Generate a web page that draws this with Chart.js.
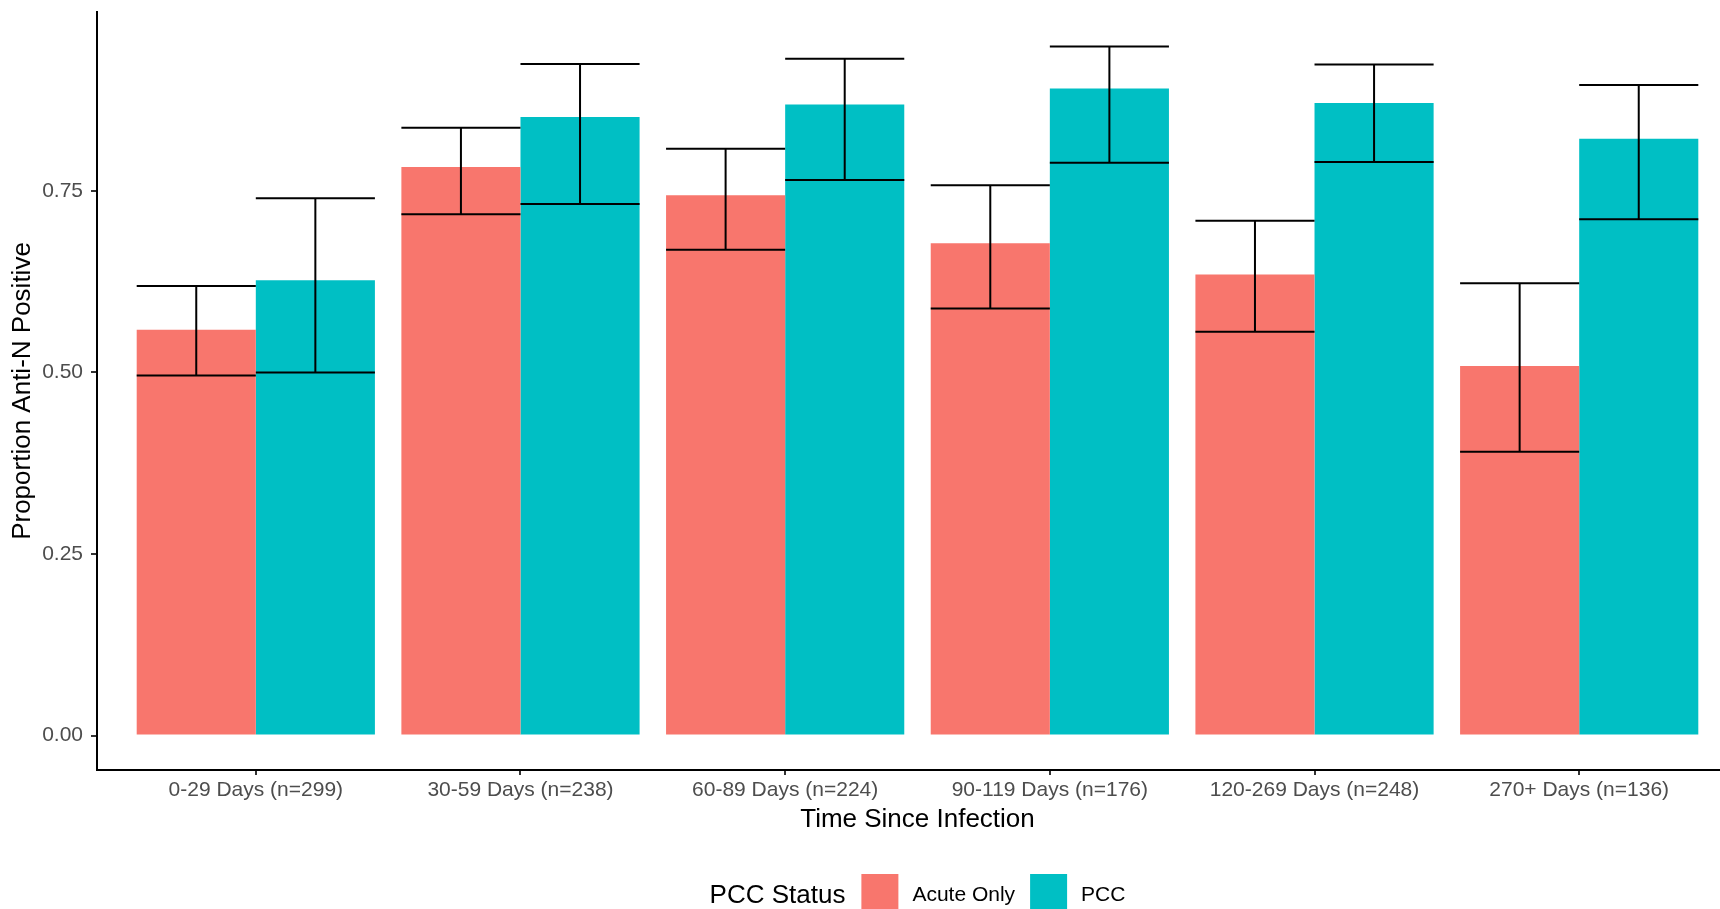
<!DOCTYPE html>
<html>
<head>
<meta charset="utf-8">
<title>Proportion Anti-N Positive by Time Since Infection</title>
<script src="https://cdn.jsdelivr.net/npm/chart.js@4.4.1/dist/chart.umd.min.js"></script>
<style>
	html, body { margin: 0; padding: 0; background: #fff; overflow: hidden; }
	#wrap { position: absolute; left: 0; top: 0; width: 1738px; height: 909px; }
</style>
</head>
<body>
<div id="wrap"><canvas id="graphCanvas" width="1738" height="909"></canvas></div>
<script>
// values
var categories = ['0-29 Days (n=299)', '30-59 Days (n=238)', '60-89 Days (n=224)', '90-119 Days (n=176)', '120-269 Days (n=248)', '270+ Days (n=136)'];

var acuteValues = [0.559, 0.783, 0.744, 0.678, 0.635, 0.509];
var acuteLower = [0.496, 0.718, 0.669, 0.588, 0.556, 0.391];
var acuteUpper = [0.619, 0.837, 0.808, 0.758, 0.709, 0.623];

var pccValues = [0.627, 0.852, 0.869, 0.891, 0.871, 0.822];
var pccLower = [0.500, 0.732, 0.765, 0.789, 0.790, 0.711];
var pccUpper = [0.740, 0.925, 0.932, 0.949, 0.924, 0.896];

var yTicks = [0, 0.25, 0.50, 0.75];
var seriesNames = ['Acute Only', 'PCC'];
var legendTitle = 'PCC Status';

var fontFamily = '"Liberation Sans", Arial, Helvetica, sans-serif';
Chart.defaults.font.family = fontFamily;

var titleSize = 26;
var textSize = 21;

// ggplot-like expansion of the axes
var yTop = Math.max.apply(null, acuteUpper.concat(pccUpper));
var yPad = 0.05 * yTop;
var xExpand = 0.6;

function toPoints(values) {
	return values.map(function (v, i) { return { x: i, y: v }; });
}

var errorBarPlugin = {
	id: 'errorBars',
	afterDatasetsDraw: function (chart) {
		var ctx = chart.ctx;
		var yScale = chart.scales.y;
		ctx.save();
		ctx.strokeStyle = '#000000';
		ctx.lineWidth = 2;
		chart.data.datasets.forEach(function (ds, di) {
			var meta = chart.getDatasetMeta(di);
			meta.data.forEach(function (bar, i) {
				var half = bar.width / 2;
				var top = yScale.getPixelForValue(ds.upper[i]);
				var bottom = yScale.getPixelForValue(ds.lower[i]);
				ctx.beginPath();
				ctx.moveTo(bar.x - half, top);
				ctx.lineTo(bar.x + half, top);
				ctx.moveTo(bar.x, top);
				ctx.lineTo(bar.x, bottom);
				ctx.moveTo(bar.x - half, bottom);
				ctx.lineTo(bar.x + half, bottom);
				ctx.stroke();
			});
		});
		ctx.restore();
	}
};

var legendPlugin = {
	id: 'statusLegend',
	afterDraw: function (chart) {
		var ctx = chart.ctx;
		var area = chart.chartArea;
		var box = 37;
		var gapTitle = 16, gapLabel = 14, gapItem = 15;
		ctx.save();
		ctx.font = titleSize + 'px ' + fontFamily;
		var titleWidth = ctx.measureText(legendTitle).width;
		ctx.font = textSize + 'px ' + fontFamily;
		var items = chart.data.datasets.map(function (ds) {
			return { label: ds.label, color: ds.backgroundColor, width: ctx.measureText(ds.label).width };
		});
		var total = titleWidth + gapTitle;
		items.forEach(function (it, i) {
			total += (i > 0 ? gapItem : 0) + box + gapLabel + it.width;
		});
		var x = (area.left + area.right) / 2 - total / 2;
		var cy = chart.height - 16.5;
		var textY = cy + 3;

		ctx.textBaseline = 'middle';
		ctx.textAlign = 'left';
		ctx.fillStyle = '#000000';
		ctx.font = titleSize + 'px ' + fontFamily;
		ctx.fillText(legendTitle, x, textY);
		x += titleWidth + gapTitle;

		ctx.font = textSize + 'px ' + fontFamily;
		items.forEach(function (it, i) {
			if (i > 0) x += gapItem;
			ctx.fillStyle = it.color;
			ctx.fillRect(x, cy - box / 2, box, box);
			x += box + gapLabel;
			ctx.fillStyle = '#000000';
			ctx.fillText(it.label, x, textY);
			x += it.width;
		});
		ctx.restore();
	}
};

function showChart()
{
	var chartdata = {
		datasets: [
			{
				label: seriesNames[0],
				backgroundColor: '#F8766D',
				borderWidth: 0,
				data: toPoints(acuteValues),
				lower: acuteLower,
				upper: acuteUpper
			},
			{
				label: seriesNames[1],
				backgroundColor: '#00BFC4',
				borderWidth: 0,
				data: toPoints(pccValues),
				lower: pccLower,
				upper: pccUpper
			}
		]
	};

	var graphTarget = document.getElementById('graphCanvas');

	var barGraph = new Chart(graphTarget, {
		type: 'bar',
		data: chartdata,
		plugins: [errorBarPlugin, legendPlugin],
		options: {
			responsive: false,
			animation: false,
			devicePixelRatio: 1,
			layout: { padding: { top: 12, left: 0, right: 0, bottom: 74 } },
			datasets: { bar: { categoryPercentage: 0.9, barPercentage: 1.0 } },
			plugins: {
				legend: { display: false },
				tooltip: { enabled: false }
			},
			scales: {
				x: {
					type: 'linear',
					offset: false,
					min: -xExpand,
					max: categories.length - 1 + xExpand,
					afterBuildTicks: function (scale) {
						scale.ticks = categories.map(function (c, i) { return { value: i }; });
					},
					afterFit: function (scale) {
						scale.height = 65;
						scale.paddingLeft = 0;
						scale.paddingRight = 0;
					},
					ticks: {
						callback: function (value) { return categories[value]; },
						autoSkip: false,
						maxRotation: 0,
						padding: 3,
						color: '#4d4d4d',
						font: { size: textSize }
					},
					grid: { display: true, offset: false, drawOnChartArea: false, drawTicks: true, tickLength: 5, color: '#333333', lineWidth: 2 },
					border: { display: true, color: '#000000', width: 2 },
					title: {
						display: true,
						text: 'Time Since Infection',
						color: '#000000',
						font: { size: titleSize },
						padding: { top: 0, bottom: 0 }
					}
				},
				y: {
					min: -yPad,
					max: yTop + yPad,
					afterBuildTicks: function (scale) {
						scale.ticks = yTicks.map(function (v) { return { value: v }; });
					},
					afterFit: function (scale) {
						scale.width = 97;
						scale.paddingTop = 0;
						scale.paddingBottom = 0;
					},
					ticks: {
						callback: function (value) { return value.toFixed(2); },
						padding: 8,
						color: '#4d4d4d',
						font: { size: textSize }
					},
					grid: { display: true, drawOnChartArea: false, drawTicks: true, tickLength: 6, color: '#333333', lineWidth: 2 },
					border: { display: true, color: '#000000', width: 2 },
					title: {
						display: true,
						text: 'Proportion Anti-N Positive',
						color: '#000000',
						font: { size: titleSize },
						padding: { top: 7, bottom: 0 }
					}
				}
			}
		}
	});
}

showChart();
</script>
</body>
</html>
